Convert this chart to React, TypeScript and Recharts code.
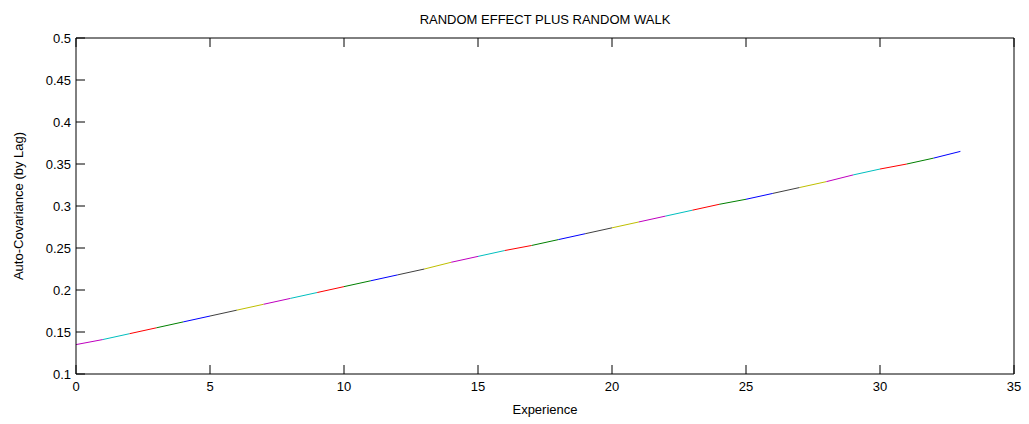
import React from 'react';
import { LineChart, Line, XAxis, YAxis } from 'recharts';

const experience = [
  0, 1, 2, 3, 4, 5, 6, 7, 8, 9, 10, 11, 12, 13, 14, 15, 16,
  17, 18, 19, 20, 21, 22, 23, 24, 25, 26, 27, 28, 29, 30, 31, 32, 33,
];
const autoCov = [
  0.135, 0.141, 0.148, 0.155, 0.162, 0.169, 0.176, 0.183, 0.19, 0.197, 0.204, 0.211,
  0.218, 0.225, 0.233, 0.24, 0.247, 0.253, 0.26, 0.267, 0.274, 0.281, 0.288, 0.295,
  0.302, 0.308, 0.315, 0.322, 0.329, 0.337, 0.344, 0.35, 0.357, 0.365,
];
const xTicks = [0, 5, 10, 15, 20, 25, 30, 35];
const yTicks = [0.1, 0.15, 0.2, 0.25, 0.3, 0.35, 0.4, 0.45, 0.5];
const yTickLabels = ['0.1', '0.15', '0.2', '0.25', '0.3', '0.35', '0.4', '0.45', '0.5'];

// colour order used for consecutive lag segments
const segColors = ['#bf00bf', '#00bfbf', '#ff0000', '#008000', '#0000ff', '#404040', '#bfbf00'];

const rows = experience.map((x, i) => ({ x, v: autoCov[i] }));

const FONT = '"Liberation Sans", Arial, sans-serif';
const TICK = 9;
const GAP = 8;

const BottomTick = (props: any) => {
  const { x, y, payload } = props;
  return (
    <g>
      <line x1={x} x2={x} y1={y - GAP} y2={y - GAP - TICK} stroke="#000" />
      <text x={x} y={y} dy="0.71em" textAnchor="middle" fontSize={13} fontFamily={FONT} fill="#000">
        {payload.value}
      </text>
    </g>
  );
};

const LeftTick = (props: any) => {
  const { x, y, payload, index } = props;
  return (
    <g>
      <line x1={x + 5} x2={x + 5 + TICK} y1={y} y2={y} stroke="#000" />
      <text x={x} y={y} dy="0.355em" textAnchor="end" fontSize={13} fontFamily={FONT} fill="#000">
        {yTickLabels[index] ?? payload.value}
      </text>
    </g>
  );
};

const TopTick = (props: any) => {
  const { x, y } = props;
  return <line x1={x} x2={x} y1={y} y2={y + TICK} stroke="#000" />;
};

const RightTick = (props: any) => {
  const { x, y } = props;
  return <line x1={x} x2={x - TICK} y1={y} y2={y} stroke="#000" />;
};

export default function App() {
  return (
    <div style={{ position: 'absolute', left: 0, top: 0, width: 1029, height: 424, background: '#fff' }}>
      <div
        style={{
          position: 'absolute',
          left: 76,
          top: 13,
          width: 938,
          textAlign: 'center',
          fontFamily: FONT,
          fontSize: 13,
          lineHeight: '14px',
          color: '#000',
        }}
      >
        RANDOM EFFECT PLUS RANDOM WALK
      </div>
      <LineChart width={1029} height={424} data={rows} margin={{ top: 37, right: 14, bottom: 0, left: 0 }}>
        <XAxis
          xAxisId="b"
          dataKey="x"
          type="number"
          domain={[0, 35]}
          ticks={xTicks}
          height={50}
          tickSize={0}
          tickMargin={GAP}
          tickLine={false}
          tick={BottomTick}
          axisLine={{ stroke: '#000' }}
          label={{ value: 'Experience', position: 'insideBottom', offset: 10, fill: '#000', fontSize: 13, fontFamily: FONT }}
        />
        <XAxis
          xAxisId="t"
          orientation="top"
          dataKey="x"
          type="number"
          domain={[0, 35]}
          ticks={xTicks}
          height={1}
          tickSize={0}
          tickMargin={0}
          tickLine={false}
          tick={TopTick}
          axisLine={{ stroke: '#000' }}
        />
        <YAxis
          yAxisId="l"
          type="number"
          domain={[0.1, 0.5]}
          ticks={yTicks}
          width={76}
          tickSize={0}
          tickMargin={5}
          tickLine={false}
          tick={LeftTick}
          axisLine={{ stroke: '#000' }}
          label={{
            value: 'Auto-Covariance (by Lag)',
            angle: -90,
            position: 'insideLeft',
            offset: 18,
            fill: '#000',
            fontSize: 13,
            fontFamily: FONT,
            style: { textAnchor: 'middle' },
          }}
        />
        <YAxis
          yAxisId="r"
          orientation="right"
          type="number"
          domain={[0.1, 0.5]}
          ticks={yTicks}
          width={1}
          tickSize={0}
          tickMargin={0}
          tickLine={false}
          tick={RightTick}
          axisLine={{ stroke: '#000' }}
        />
        {experience.slice(0, -1).map((k, i) => (
          <Line
            key={`seg-${k}`}
            xAxisId="b"
            yAxisId="l"
            type="linear"
            dataKey={(r: any) => (r.x === k || r.x === experience[i + 1] ? r.v : null)}
            stroke={segColors[i % segColors.length]}
            strokeWidth={1}
            dot={false}
            activeDot={false}
            connectNulls={false}
            isAnimationActive={false}
          />
        ))}
      </LineChart>
    </div>
  );
}
